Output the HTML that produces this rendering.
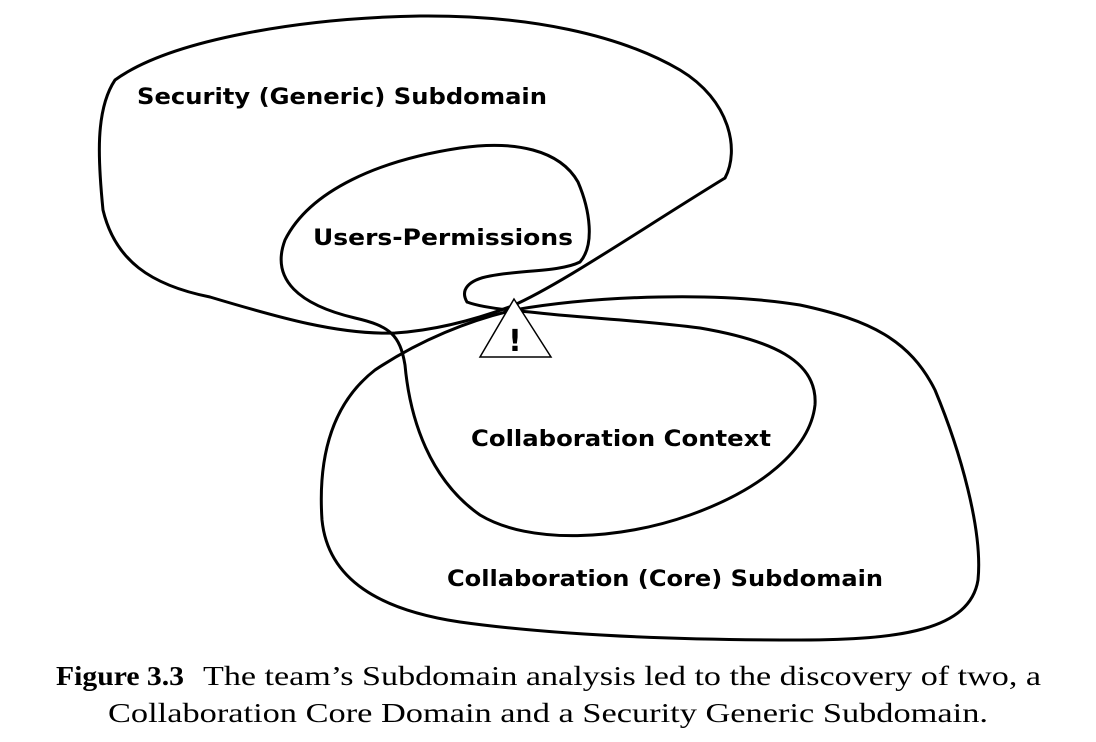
<!DOCTYPE html>
<html><head><style>
html,body{margin:0;padding:0;background:#fff;}
svg{display:block;}
</style></head><body>
<svg width="1096" height="742" viewBox="0 0 1096 742" xmlns="http://www.w3.org/2000/svg">
<g fill="none" stroke="#000" stroke-width="3" stroke-linecap="round" stroke-linejoin="round">
<path d="M725,178 C740,150 730,100 680,70 C620,35 530,15 420,16 C300,18 170,40 115,80 C95,110 98,160 103,210 C115,260 150,285 210,297 C280,318 340,335 395,333 C440,330 480,318 512,306 C560,285 640,230 725,178"/>
<path d="M467,302 C460,290 468,280 490,276 C520,270 560,272 580,262 C595,245 590,210 578,182 C560,150 515,140 460,148 C380,160 310,190 285,240 C270,280 300,305 355,318 C390,326 400,335 405,365 C410,420 430,480 480,515 C530,545 620,540 690,515 C760,490 810,450 815,405 C818,360 770,340 700,328 C640,320 580,318 530,312 C505,310 480,307 467,302"/>
<path d="M514,310 C470,320 420,340 375,370 C330,405 318,460 322,520 C328,580 380,610 460,622 C560,636 680,640 800,640 C900,640 970,630 978,580 C983,530 960,450 935,390 C910,340 870,320 800,305 C720,292 600,295 514,310"/>
</g>
<polygon points="514,299 480,357 551,357" fill="#fff" stroke="#000" stroke-width="1.5"/>
<text x="515" y="351" font-family="DejaVu Sans, sans-serif" font-size="30" font-weight="bold" text-anchor="middle">!</text>
<g font-family="DejaVu Sans, sans-serif" font-size="22" font-weight="bold" fill="#000">
<text x="137" y="104" textLength="410" lengthAdjust="spacingAndGlyphs">Security (Generic) Subdomain</text>
<text x="313" y="245" textLength="260" lengthAdjust="spacingAndGlyphs">Users-Permissions</text>
<text x="471" y="446" textLength="300" lengthAdjust="spacingAndGlyphs">Collaboration Context</text>
<text x="447" y="586" textLength="436" lengthAdjust="spacingAndGlyphs">Collaboration (Core) Subdomain</text>
</g>
<g font-family="Liberation Serif, serif" font-size="27" fill="#000">
<text x="56" y="685" font-weight="bold" textLength="128" lengthAdjust="spacingAndGlyphs">Figure 3.3</text>
<text x="203" y="685" textLength="838" lengthAdjust="spacingAndGlyphs">The team’s Subdomain analysis led to the discovery of two, a</text>
<text x="548" y="722" text-anchor="middle" textLength="880" lengthAdjust="spacingAndGlyphs">Collaboration Core Domain and a Security Generic Subdomain.</text>
</g>
</svg>
</body></html>
